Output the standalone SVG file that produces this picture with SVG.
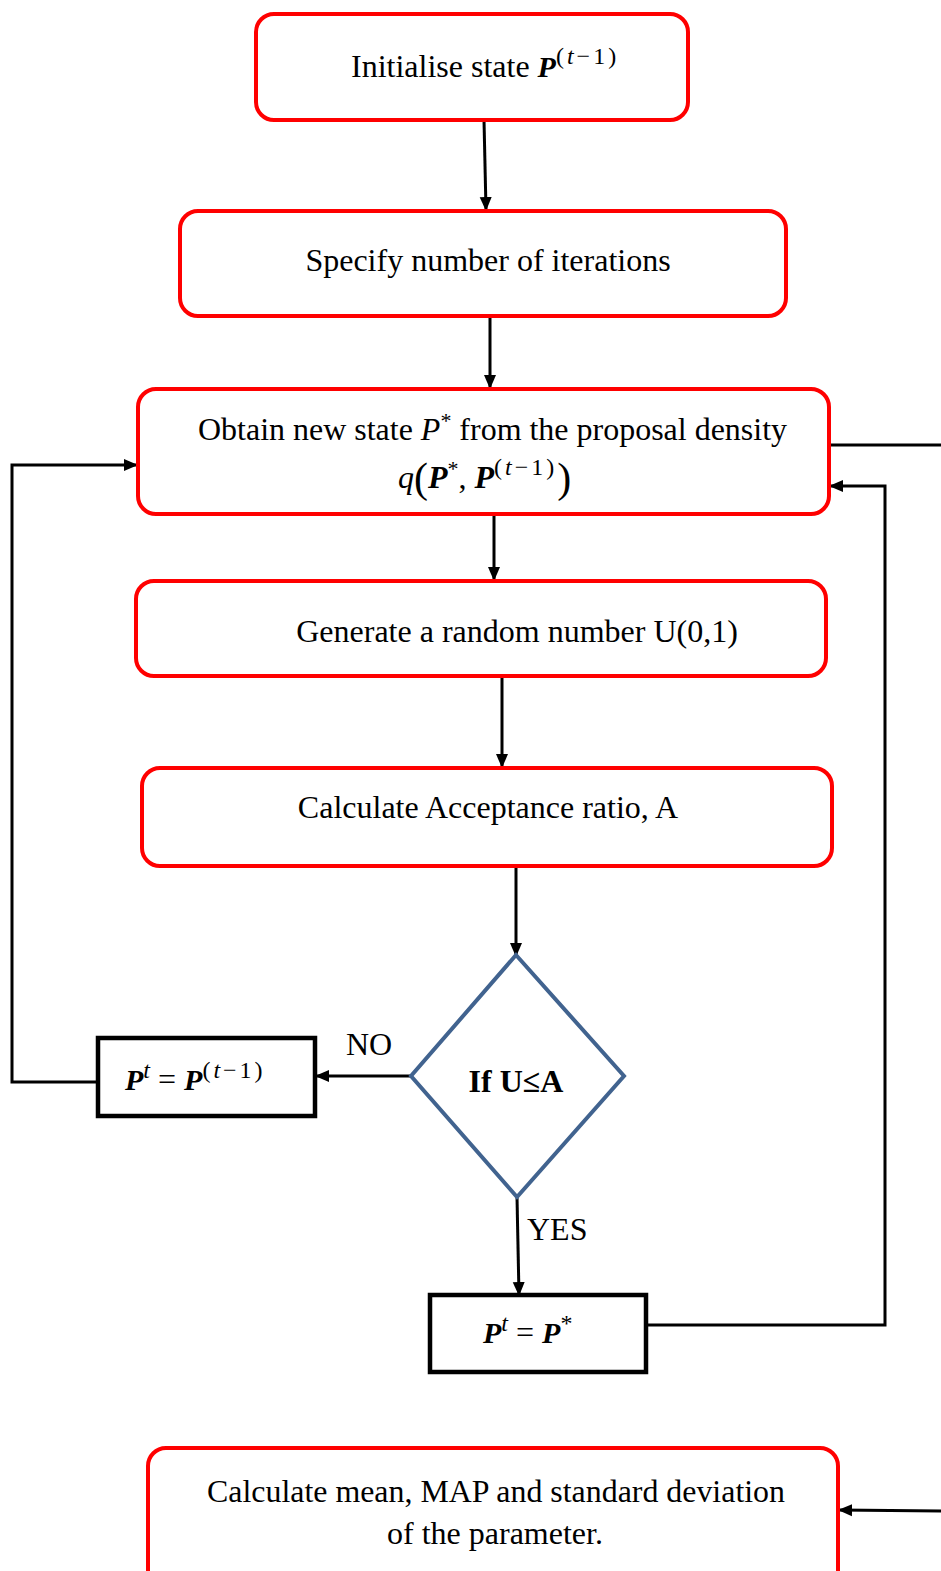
<svg xmlns="http://www.w3.org/2000/svg" width="941" height="1571" viewBox="0 0 941 1571">
<defs>
<marker id="ah" markerWidth="14" markerHeight="14" refX="13" refY="7" orient="auto" markerUnits="userSpaceOnUse" viewBox="0 0 14 14">
<path d="M0,1 L14,7 L0,13 z" fill="#000"/>
</marker>
<style>
.rb{fill:#fff;stroke:#ff0000;stroke-width:4}
.bb{fill:#fff;stroke:#000;stroke-width:4.5}
.dm{fill:#fff;stroke:#41638f;stroke-width:4}
.t{font-family:"Liberation Serif","Times New Roman",serif;font-size:32px;fill:#000}
.m{font-family:"Liberation Serif","Times New Roman",serif;fill:#000}
.c{fill:none;stroke:#000;stroke-width:3}
.ca{fill:none;stroke:#000;stroke-width:3;marker-end:url(#ah)}
</style>
</defs>
<rect width="941" height="1571" fill="#fff"/>
<g id="connectors">
<path class="ca" d="M484,120 L486,210"/>
<path class="ca" d="M490,316 L490,388"/>
<path class="ca" d="M494,514 L494,580"/>
<path class="ca" d="M502,676 L502,767"/>
<path class="ca" d="M516,866 L516,956"/>
<path class="ca" d="M411,1076 L316,1076"/>
<path class="ca" d="M98,1082 L12,1082 L12,465 L137,465"/>
<path class="ca" d="M517,1197 L519,1295"/>
<path class="ca" d="M646,1325 L885,1325 L885,486 L830,486"/>
<path class="c" d="M829,445 L941,445"/>
<path class="ca" d="M941,1511 L839,1510"/>
<text class="t" x="346" y="1055">NO</text>
<text class="t" x="527" y="1240">YES</text>
</g>
<g id="n1">
<rect class="rb" x="256" y="14" width="432" height="106" rx="18"/>
<text class="t" x="351" y="77">Initialise state <tspan class="m" font-weight="bold" font-style="italic" font-size="30">P</tspan><tspan class="m" font-size="24" dy="-13" letter-spacing="3">(<tspan font-style="italic">t</tspan>−1)</tspan></text>
</g>
<g id="n2">
<rect class="rb" x="180" y="211" width="606" height="105" rx="18"/>
<text class="t" x="488" y="271" text-anchor="middle">Specify number of iterations</text>
</g>
<g id="n3">
<rect class="rb" x="138" y="389" width="691" height="125" rx="18"/>
<text class="t" x="198" y="440" textLength="589" lengthAdjust="spacingAndGlyphs">Obtain new state <tspan font-style="italic">P</tspan><tspan font-size="22" dy="-12">*</tspan><tspan dy="12"> from the proposal density</tspan></text>
<text class="m" x="398" y="488" font-size="32"><tspan font-style="italic">q</tspan><tspan font-size="42" dy="4">(</tspan><tspan dy="-4" font-weight="bold" font-style="italic">P</tspan><tspan font-size="22" dy="-12">*</tspan><tspan dy="12">, </tspan><tspan font-weight="bold" font-style="italic">P</tspan><tspan font-size="24" dy="-13" letter-spacing="3">(<tspan font-style="italic">t</tspan>−1)</tspan><tspan font-size="42" dy="17">)</tspan></text>
</g>
<g id="n4">
<rect class="rb" x="136" y="581" width="690" height="95" rx="18"/>
<text class="t" x="517" y="642" text-anchor="middle">Generate a random number U(0,1)</text>
</g>
<g id="n5">
<rect class="rb" x="142" y="768" width="690" height="98" rx="18"/>
<text class="t" x="488" y="818" text-anchor="middle">Calculate Acceptance ratio, A</text>
</g>
<g id="n6">
<path class="dm" d="M516,955 L624,1076 L517,1197 L411,1076 Z"/>
<text class="t" x="516" y="1092" text-anchor="middle" font-weight="bold">If U≤A</text>
</g>
<g id="n7">
<rect class="bb" x="98" y="1038" width="217" height="78"/>
<text class="m" x="125" y="1090" font-size="30"><tspan font-weight="bold" font-style="italic">P</tspan><tspan font-size="24" dy="-12" font-style="italic">t</tspan><tspan dy="12" font-size="32">   =  </tspan><tspan font-weight="bold" font-style="italic">P</tspan><tspan font-size="24" dy="-12" letter-spacing="3">(<tspan font-style="italic">t</tspan>−1)</tspan></text>
</g>
<g id="n8">
<rect class="bb" x="430" y="1295" width="216" height="77"/>
<text class="m" x="483" y="1343" font-size="30"><tspan font-weight="bold" font-style="italic">P</tspan><tspan font-size="24" dy="-12" font-style="italic">t</tspan><tspan dy="12" font-size="32">   =   </tspan><tspan font-weight="bold" font-style="italic">P</tspan><tspan font-size="24" dy="-12">*</tspan></text>
</g>
<g id="n9">
<rect class="rb" x="148" y="1448" width="690" height="140" rx="18"/>
<text class="t" x="496" y="1502" text-anchor="middle" textLength="578" lengthAdjust="spacingAndGlyphs">Calculate mean, MAP and standard deviation</text>
<text class="t" x="495" y="1544" text-anchor="middle">of the parameter.</text>
</g>
</svg>
